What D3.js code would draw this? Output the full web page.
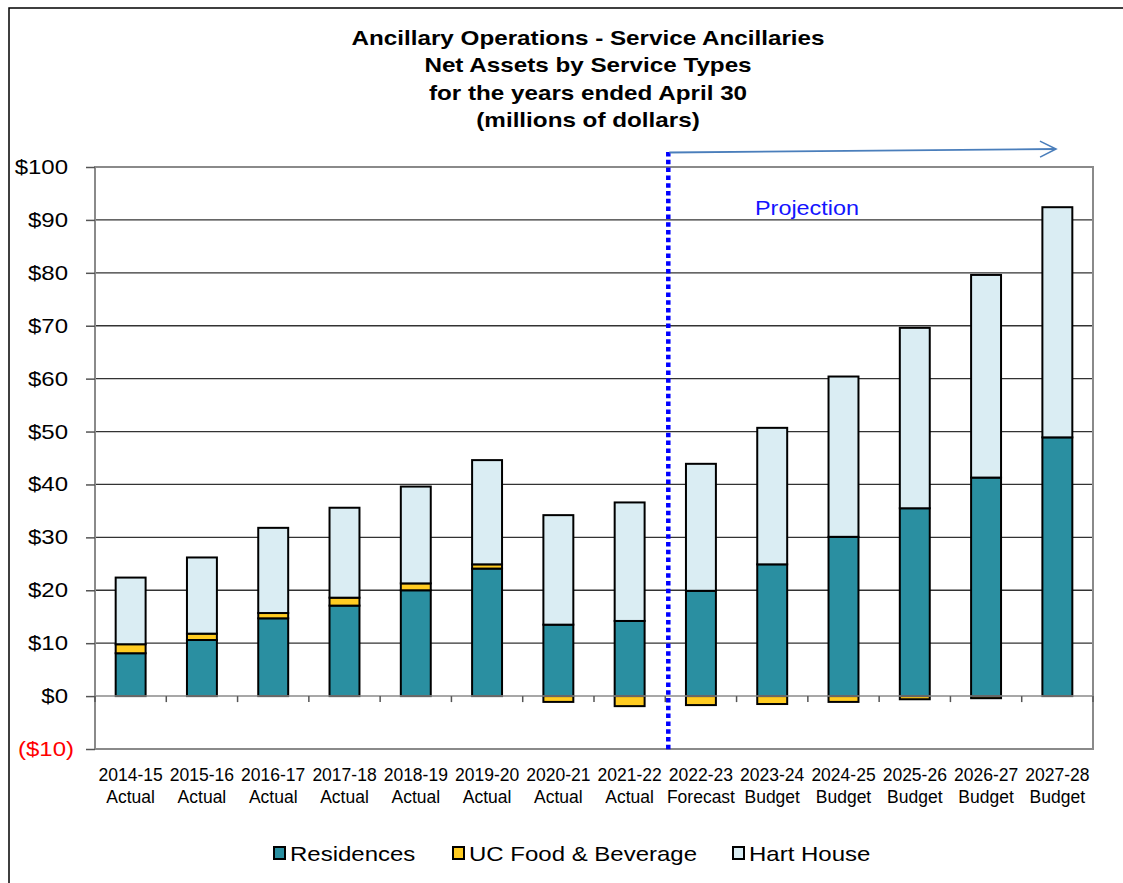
<!DOCTYPE html>
<html>
<head>
<meta charset="utf-8">
<script src="https://cdn.jsdelivr.net/npm/d3@7"></script>
<style>
  html, body { margin: 0; padding: 0; background: #fff; }
  svg { display: block; }
  text { font-family: "Liberation Sans", Arial, sans-serif; }
</style>
</head>
<body>
<svg id="chart" width="1123" height="883"></svg>
<script>
// Fiscal years and their status row
const years = ["2014-15","2015-16","2016-17","2017-18","2018-19","2019-20","2020-21",
               "2021-22","2022-23","2023-24","2024-25","2025-26","2026-27","2027-28"];
const status = ["Actual","Actual","Actual","Actual","Actual","Actual","Actual",
                "Actual","Forecast","Budget","Budget","Budget","Budget","Budget"];

// Net assets by service type, millions of dollars
const residences = [8.1, 10.6, 14.7, 17.1, 20.0, 24.1, 13.5, 14.2, 19.9, 24.9, 30.1, 35.5, 41.3, 48.9];
const ucFood     = [1.7, 1.2, 1.0, 1.5, 1.3, 0.8, -1.1, -1.9, -1.7, -1.5, -1.1, -0.6, -0.4, 0];
const hartHouse  = [12.6, 14.4, 16.1, 17.0, 18.3, 19.7, 20.7, 22.4, 24.0, 25.8, 30.3, 34.1, 38.3, 43.5];

const seriesNames = ["Residences", "UC Food & Beverage", "Hart House"];
const seriesColors = ["#2A8FA1", "#FFCC22", "#DAEDF3"];
const yTicks = [-10, 0, 10, 20, 30, 40, 50, 60, 70, 80, 90, 100];
const titleLines = ["Ancillary Operations - Service Ancillaries",
                    "Net Assets by Service Types",
                    "for the years ended April 30",
                    "(millions of dollars)"];

const rows = years.map((y, i) => ({
  year: y,
  "Residences": residences[i],
  "UC Food & Beverage": ucFood[i],
  "Hart House": hartHouse[i]
}));

const svg = d3.select("#chart");
const SX = 1.2; // horizontal stretch applied to labels

function label(sel, x, y, txt, opts = {}) {
  const t = sel.append("text")
    .attr("transform", `translate(${x},${y}) scale(${opts.sx ?? SX},1)`)
    .attr("text-anchor", opts.anchor || "start")
    .attr("font-size", opts.size || 20)
    .attr("fill", opts.fill || "#000")
    .text(txt);
  if (opts.weight) t.attr("font-weight", opts.weight);
  if (opts.family) t.attr("font-family", opts.family);
  return t;
}

// outer frame
svg.append("path")
  .attr("d", "M9,883 V8 H1123")
  .attr("fill", "none").attr("stroke", "#000").attr("stroke-width", 1.5);

// plot area
const plot = { left: 95, right: 1093, top: 167, bottom: 749 };

const x = d3.scaleBand()
  .domain(years)
  .range([plot.left, plot.right])
  .paddingInner(0.58)
  .paddingOuter(0.29);

const y = d3.scaleLinear()
  .domain([-10, 100])
  .range([plot.bottom, plot.top]);

// title
titleLines.forEach((line, i) => {
  label(svg, 588, 45 + i * 27.3, line, { anchor: "middle", size: 20.2, weight: "bold" });
});

// horizontal gridlines
svg.append("g")
  .selectAll("line")
  .data(yTicks.filter(v => v !== 0 && v !== -10 && v !== 100))
  .join("line")
  .attr("x1", plot.left).attr("x2", plot.right)
  .attr("y1", d => y(d)).attr("y2", d => y(d))
  .attr("stroke", "#333").attr("stroke-width", 1.3);

// plot area border
svg.append("rect")
  .attr("x", plot.left).attr("y", plot.top)
  .attr("width", plot.right - plot.left).attr("height", plot.bottom - plot.top)
  .attr("fill", "none").attr("stroke", "#8a8a8a").attr("stroke-width", 2);

// y axis ticks and labels
const yAxis = d3.axisLeft(y).tickValues(yTicks).tickSize(9).tickFormat("");
const yg = svg.append("g").attr("transform", `translate(${plot.left},0)`).call(yAxis);
yg.select(".domain").remove();
yg.selectAll(".tick line").attr("stroke", "#555").attr("stroke-width", 1.5);

yTicks.forEach(v => {
  const neg = v < 0;
  const txt = neg ? `($${Math.abs(v)})` : `$${v}`;
  label(svg, neg ? 74 : 68, y(v) + 7, txt, { anchor: "end", size: 20, fill: neg ? "#FF0000" : "#000" });
});

// stacked bars
const stack = d3.stack()
  .keys(seriesNames)
  .offset(d3.stackOffsetDiverging);
const stacked = stack(rows);

const barG = svg.append("g");
stacked.forEach((layer, si) => {
  barG.append("g")
    .selectAll("rect")
    .data(layer.filter(d => d[1] !== d[0]))
    .join("rect")
    .attr("x", d => x(d.data.year))
    .attr("width", x.bandwidth())
    .attr("y", d => y(Math.max(d[0], d[1])))
    .attr("height", d => Math.abs(y(d[0]) - y(d[1])))
    .attr("fill", seriesColors[si])
    .attr("stroke", "#000")
    .attr("stroke-width", 2);
});

// zero axis with category-boundary ticks
const zeroY = y(0);
svg.append("line")
  .attr("x1", plot.left).attr("x2", plot.right)
  .attr("y1", zeroY).attr("y2", zeroY)
  .attr("stroke", "#8a8a8a").attr("stroke-width", 1.5);
const step = x.step();
svg.append("g")
  .selectAll("line")
  .data(d3.range(years.length + 1))
  .join("line")
  .attr("x1", i => plot.left + i * step).attr("x2", i => plot.left + i * step)
  .attr("y1", zeroY).attr("y2", zeroY + 6)
  .attr("stroke", "#555").attr("stroke-width", 1.5);

// category labels
const narrow = "'Liberation Sans Narrow', 'Liberation Sans', Arial, sans-serif";
years.forEach((yr, i) => {
  const cx = x(yr) + x.bandwidth() / 2;
  label(svg, cx, 781, yr, { anchor: "middle", size: 17.5, sx: 1, family: narrow });
  label(svg, cx, 803, status[i], { anchor: "middle", size: 17.5, sx: 1, family: narrow });
});

// projection marker
const projX = plot.left + 8 * step + 3;
svg.append("line")
  .attr("x1", projX).attr("x2", projX)
  .attr("y1", 152).attr("y2", 750)
  .attr("stroke", "#0000FF").attr("stroke-width", 4.5)
  .attr("stroke-dasharray", "4.5 3.3");

svg.append("defs").append("marker")
  .attr("id", "arrowHead")
  .attr("viewBox", "0 0 20 20")
  .attr("refX", 18).attr("refY", 10)
  .attr("markerWidth", 20).attr("markerHeight", 20)
  .attr("markerUnits", "userSpaceOnUse")
  .attr("orient", "auto")
  .append("path")
  .attr("d", "M2,2 L18,10 L2,18")
  .attr("fill", "none").attr("stroke", "#4A7EBB").attr("stroke-width", 1.6);

svg.append("line")
  .attr("x1", projX + 1).attr("y1", 152.5)
  .attr("x2", 1056).attr("y2", 149)
  .attr("stroke", "#4A7EBB").attr("stroke-width", 1.8)
  .attr("marker-end", "url(#arrowHead)");

label(svg, 755, 215, "Projection", { size: 19.5, fill: "#1414FF" });

// legend
const legendItems = [
  { name: "Residences", x: 274 },
  { name: "UC Food & Beverage", x: 453 },
  { name: "Hart House", x: 733 }
];
legendItems.forEach((item, i) => {
  svg.append("rect")
    .attr("x", item.x).attr("y", 847)
    .attr("width", 11).attr("height", 12)
    .attr("fill", seriesColors[i]).attr("stroke", "#000").attr("stroke-width", 2);
  label(svg, item.x + 16, 861, item.name, { size: 20 });
});
</script>
</body>
</html>
